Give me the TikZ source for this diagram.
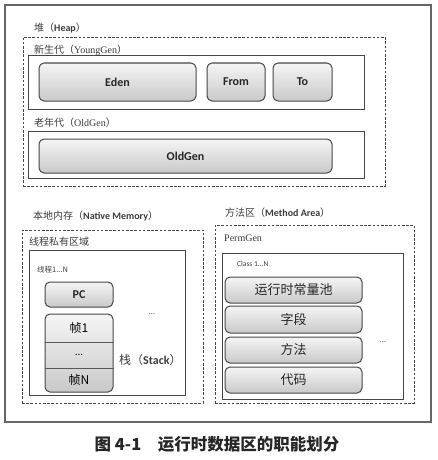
\documentclass[tikz,border=0pt]{standalone}
\usepackage{fontspec}
\setmainfont{Carlito}
\newfontfamily\cjk{Noto Sans CJK SC}
\newfontfamily\serifl{Liberation Serif}
\usetikzlibrary{positioning,calc}
\definecolor{framegray}{RGB}{70,70,70}
\definecolor{labelgray}{RGB}{60,60,60}

\begin{document}
\begin{tikzpicture}[x=1pt,y=-1pt, every node/.style={inner sep=0pt}]
\tikzset{area/.style={draw=framegray,line width=0.9pt,dash pattern=on 2.6pt off 1.6pt},
  region/.style={draw=framegray,line width=0.9pt},
  cell/.style={draw=framegray,line width=1pt,rounded corners=5pt,top color=gray!8,bottom color=gray!42,
    text=black!85,font=\fontsize{12}{14}\selectfont\bfseries},
  tag/.style={anchor=west,text=labelgray,font=\cjk\fontsize{10}{12}\selectfont}}
\useasboundingbox (0,0) rectangle (438,460);

% whole runtime data area
\node[draw=gray!80!black,line width=1.3pt,minimum width=426pt,minimum height=417pt] (jvm) at (218,213.5) {};

% heap
\node[tag] (heaptag) at (34,28) {堆（{\rmfamily\bfseries Heap}）};
\node[area,minimum width=362pt,minimum height=149pt] (heap) at (204,111.5) {};
\node[tag] (youngtag) at (34,50) {新生代（{\serifl YoungGen}）};
\node[region,minimum width=336pt,minimum height=54pt] (young) at (196,82) {};
\node[cell,minimum width=157pt,minimum height=38pt] (eden) at (117.5,82) {Eden};
\node[cell,minimum width=58pt,minimum height=38pt]  (from) at (236,82) {From};
\node[cell,minimum width=59pt,minimum height=38pt]  (to)   at (302.5,82) {To};
\node[tag] (oldtag) at (34,123) {老年代（{\serifl OldGen}）};
\node[region,minimum width=336pt,minimum height=47pt] (old) at (196,154.5) {};
\node[cell,minimum width=293pt,minimum height=34pt] (oldgen) at (185.5,156) {OldGen};

% native memory
\node[tag] (nativetag) at (33,216) {本地内存（{\rmfamily\bfseries Native Memory}）};
\node[area,minimum width=181pt,minimum height=173pt] (private) at (112.5,316.5) {};
\node[tag] (privatetag) at (29,242) {线程私有区域};
\node[region,minimum width=156pt,minimum height=145pt] (thread) at (107,322.5) {};
\node[tag,font=\cjk\fontsize{7.5}{9}\selectfont] (threadtag) at (37,270) {线程1...N};
\node[cell,minimum width=68pt,minimum height=25pt] (pc) at (79,294.5) {PC};
\node[cell,minimum width=68pt,minimum height=78pt] (stack) at (79,353) {};
\node[font=\cjk\fontsize{12}{14}\selectfont,minimum height=28pt] (f1) at (79,328) {帧1};
\node[font=\cjk\fontsize{10}{12}\selectfont,minimum height=26pt] (fdots) at (79,355) {...};
\node[font=\cjk\fontsize{12}{14}\selectfont] (fN) at (79,380) {帧N};
\draw[gray!70!black] (stack.west |- f1.south) -- (stack.east |- f1.south);
\draw[gray!70!black] (stack.west |- fdots.south) -- (stack.east |- fdots.south);
\node[tag,font=\cjk\fontsize{12}{14}\selectfont] (stacktag) at (119,360) {栈（{\rmfamily\bfseries Stack}）};
\node[font=\fontsize{8}{9}\selectfont,text=labelgray] (threadmore) at (152,314) {...};

% method area
\node[tag] (methodtag) at (225,213) {方法区（{\rmfamily\bfseries Method Area}）};
\node[area,minimum width=199pt,minimum height=178pt] (perm) at (314.5,314) {};
\node[tag,font=\serifl\fontsize{10}{12}\selectfont] (permtag) at (224,238) {PermGen};
\node[region,minimum width=181pt,minimum height=146pt] (class) at (312.5,326) {};
\node[tag,font=\fontsize{7.5}{9}\selectfont] (classtag) at (237,264) {Class 1...N};
\node[cell,font=\cjk\fontsize{13}{15}\selectfont,minimum width=137pt,minimum height=26pt] (pool)   at (293.5,290) {运行时常量池};
\node[cell,font=\cjk\fontsize{13}{15}\selectfont,minimum width=137pt,minimum height=27pt] (field)  at (293.5,319.5) {字段};
\node[cell,font=\cjk\fontsize{13}{15}\selectfont,minimum width=137pt,minimum height=26pt] (method) at (293.5,350) {方法};
\node[cell,font=\cjk\fontsize{13}{15}\selectfont,minimum width=137pt,minimum height=26pt] (code)   at (293.5,380) {代码};
\node[font=\fontsize{8}{9}\selectfont,text=labelgray] (classmore) at (383,342) {...};

% caption
\node[font=\cjk\bfseries\fontsize{16.5}{18}\selectfont,text=black!85] (caption) at (217,444) {图 4-1\hspace{1em}运行时数据区的职能划分};
\end{tikzpicture}
\end{document}
